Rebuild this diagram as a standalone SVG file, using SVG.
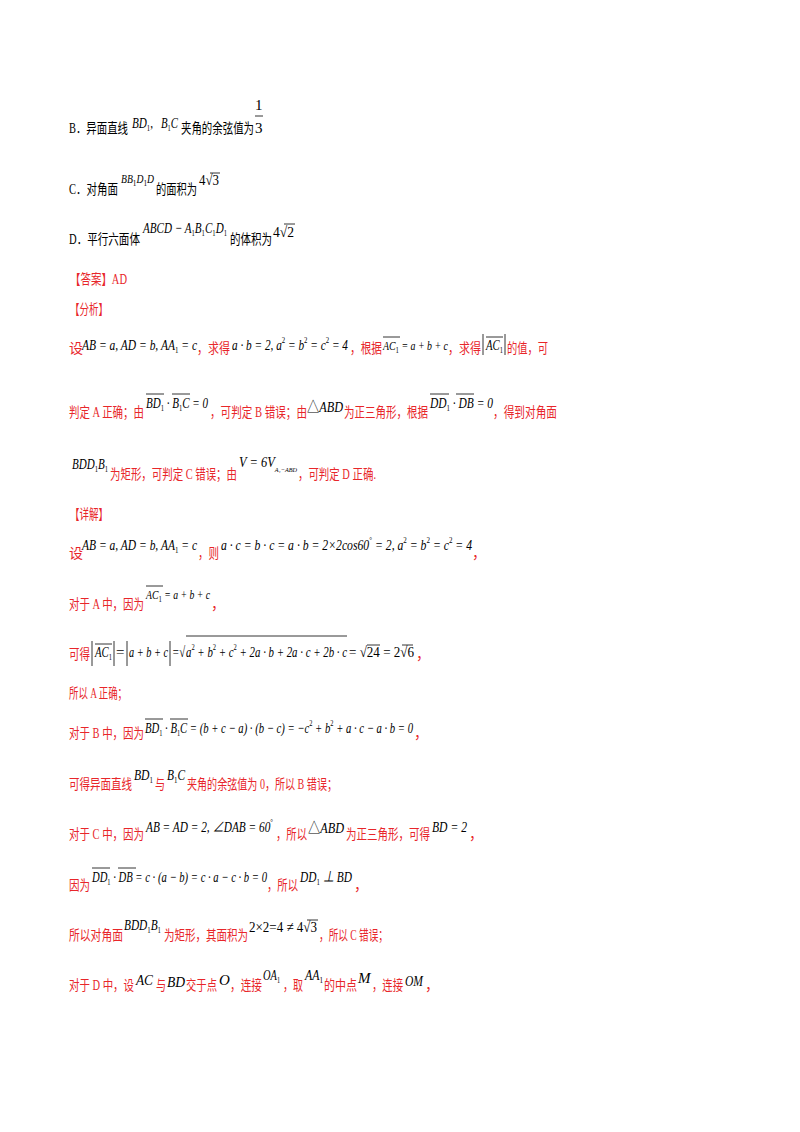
<svg xmlns="http://www.w3.org/2000/svg" width="800" height="1132" viewBox="0 0 800 1132">
<style>
text{font-family:"Liberation Serif","Noto Sans CJK SC",serif;font-size:14px;}
.k{fill:#000}.r{fill:#e8262a}
.m{font-style:italic;font-size:15px;fill:#000}
.n{font-size:15px;fill:#000}
.s{font-size:9px;font-style:normal}
.v{stroke:#000;stroke-width:0.8;fill:none}
</style>
<rect width="800" height="1132" fill="#fff"/>
<g id="optB" class="k">
<text x="69" y="133" textLength="59" lengthAdjust="spacingAndGlyphs">B．异面直线</text>
<text x="132" y="128" class="m" textLength="21" lengthAdjust="spacingAndGlyphs">BD<tspan class="s" dy="3">1</tspan><tspan dy="-3" style="font-style:normal">,</tspan></text>
<text x="161" y="128" class="m" textLength="17" lengthAdjust="spacingAndGlyphs">B<tspan class="s" dy="3">1</tspan><tspan dy="-3">C</tspan></text>
<text x="181" y="133" textLength="73" lengthAdjust="spacingAndGlyphs">夹角的余弦值为</text>
<text x="255" y="110" class="n">1</text>
<line x1="255" y1="116" x2="263" y2="116" stroke="#000" stroke-width="0.8"/>
<text x="255" y="133" class="n">3</text>
</g>
<g id="optC" class="k">
<text x="69" y="194" textLength="49" lengthAdjust="spacingAndGlyphs">C．对角面</text>
<text x="121" y="183" class="m" style="font-size:12px" textLength="33" lengthAdjust="spacingAndGlyphs">BB<tspan class="s" dy="3">1</tspan><tspan dy="-3">D</tspan><tspan class="s" dy="3">1</tspan><tspan dy="-3">D</tspan></text>
<text x="156" y="194" textLength="41" lengthAdjust="spacingAndGlyphs">的面积为</text>
<text x="199" y="185" class="n" textLength="20" lengthAdjust="spacingAndGlyphs">4√3</text>
<line x1="210" y1="173" x2="220" y2="173" stroke="#000" stroke-width="0.8"/>
</g>
<g id="optD" class="k">
<text x="69" y="244" textLength="71" lengthAdjust="spacingAndGlyphs">D．平行六面体</text>
<text x="143" y="233" class="m" textLength="84" lengthAdjust="spacingAndGlyphs">ABCD − A<tspan class="s" dy="3">1</tspan><tspan dy="-3">B</tspan><tspan class="s" dy="3">1</tspan><tspan dy="-3">C</tspan><tspan class="s" dy="3">1</tspan><tspan dy="-3">D</tspan><tspan class="s" dy="3">1</tspan></text>
<text x="230" y="244" textLength="42" lengthAdjust="spacingAndGlyphs">的体积为</text>
<text x="273" y="237" class="n" textLength="21" lengthAdjust="spacingAndGlyphs">4√2</text>
<line x1="284" y1="224" x2="295" y2="224" stroke="#000" stroke-width="0.8"/>
</g>
<g id="answer" class="r">
<text x="70" y="284" textLength="57" lengthAdjust="spacingAndGlyphs">【答案】AD</text>
<text x="70" y="314" textLength="38" lengthAdjust="spacingAndGlyphs">【分析】</text>
<text x="69" y="353">设</text>
<text x="82" y="350" class="m" textLength="115" lengthAdjust="spacingAndGlyphs">AB = a, AD = b, AA<tspan class="s" dy="3">1</tspan><tspan dy="-3"> = c</tspan></text>
<text x="197" y="353" textLength="33" lengthAdjust="spacingAndGlyphs">，求得</text>
<text x="232" y="350" class="m" textLength="116" lengthAdjust="spacingAndGlyphs">a · b = 2, a<tspan class="s" dy="-7">2</tspan><tspan dy="7"> = b</tspan><tspan class="s" dy="-7">2</tspan><tspan dy="7"> = c</tspan><tspan class="s" dy="-7">2</tspan><tspan dy="7"> = 4</tspan></text>
<text x="350" y="353" textLength="32" lengthAdjust="spacingAndGlyphs">，根据</text>
<text x="383" y="350" class="m" style="font-size:13px" textLength="65" lengthAdjust="spacingAndGlyphs">AC<tspan class="s" dy="3">1</tspan><tspan dy="-3"> = a + b + c</tspan></text>
<line x1="383" y1="337" x2="400" y2="337" class="v"/>
<text x="448" y="353" textLength="33" lengthAdjust="spacingAndGlyphs">，求得</text>
<line x1="483" y1="334" x2="483" y2="355" class="v"/>
<text x="486" y="350" class="m" textLength="17" lengthAdjust="spacingAndGlyphs">AC<tspan class="s" dy="3">1</tspan></text>
<line x1="486" y1="337" x2="503" y2="337" class="v"/>
<line x1="505" y1="334" x2="505" y2="355" class="v"/>
<text x="507" y="353" textLength="41" lengthAdjust="spacingAndGlyphs">的值，可</text>
<text x="69" y="417" textLength="75" lengthAdjust="spacingAndGlyphs">判定 A 正确；由</text>
<text x="146" y="408" class="m" textLength="62" lengthAdjust="spacingAndGlyphs">BD<tspan class="s" dy="3">1</tspan><tspan dy="-3"> · B</tspan><tspan class="s" dy="3">1</tspan><tspan dy="-3">C = 0</tspan></text>
<line x1="146" y1="394" x2="164" y2="394" class="v"/>
<line x1="172" y1="394" x2="190" y2="394" class="v"/>
<text x="210" y="417" textLength="97" lengthAdjust="spacingAndGlyphs">，可判定 B 错误；由</text>
<text x="307" y="412" class="n" textLength="36" lengthAdjust="spacingAndGlyphs">△<tspan class="m">ABD</tspan></text>
<text x="344" y="417" textLength="84" lengthAdjust="spacingAndGlyphs">为正三角形，根据</text>
<text x="430" y="408" class="m" textLength="63" lengthAdjust="spacingAndGlyphs">DD<tspan class="s" dy="3">1</tspan><tspan dy="-3"> · DB = 0</tspan></text>
<line x1="430" y1="394" x2="449" y2="394" class="v"/>
<line x1="456" y1="394" x2="474" y2="394" class="v"/>
<text x="493" y="417" textLength="64" lengthAdjust="spacingAndGlyphs">，得到对角面</text>
<text x="72" y="469" class="m" textLength="36" lengthAdjust="spacingAndGlyphs">BDD<tspan class="s" dy="3">1</tspan><tspan dy="-3">B</tspan><tspan class="s" dy="3">1</tspan></text>
<text x="110" y="479" textLength="127" lengthAdjust="spacingAndGlyphs">为矩形，可判定 C 错误；由</text>
<text x="239" y="467" class="m" style="font-size:14px" textLength="58" lengthAdjust="spacingAndGlyphs">V = 6V<tspan dy="5" style="font-size:7px">A₁−ABD</tspan></text>
<text x="298" y="479" textLength="78" lengthAdjust="spacingAndGlyphs">，可判定 D 正确.</text>
</g>
<g id="detail" class="r">
<text x="70" y="519" textLength="38" lengthAdjust="spacingAndGlyphs">【详解】</text>
<text x="69" y="558">设</text>
<text x="82" y="550" class="m" textLength="115" lengthAdjust="spacingAndGlyphs">AB = a, AD = b, AA<tspan class="s" dy="3">1</tspan><tspan dy="-3"> = c</tspan></text>
<text x="198" y="558" textLength="21" lengthAdjust="spacingAndGlyphs">，则</text>
<text x="221" y="550" class="m" textLength="251" lengthAdjust="spacingAndGlyphs">a · c = b · c = a · b = 2×2cos60<tspan class="s" dy="-7">°</tspan><tspan dy="7"> = 2, a</tspan><tspan class="s" dy="-7">2</tspan><tspan dy="7"> = b</tspan><tspan class="s" dy="-7">2</tspan><tspan dy="7"> = c</tspan><tspan class="s" dy="-7">2</tspan><tspan dy="7"> = 4</tspan></text>
<text x="472" y="558">，</text>
<text x="69" y="609" textLength="75" lengthAdjust="spacingAndGlyphs">对于 A 中，因为</text>
<text x="146" y="599" class="m" style="font-size:13px" textLength="64" lengthAdjust="spacingAndGlyphs">AC<tspan class="s" dy="3">1</tspan><tspan dy="-3"> = a + b + c</tspan></text>
<line x1="146" y1="586" x2="163" y2="586" class="v"/>
<text x="211" y="609">，</text>
<text x="69" y="659" textLength="21" lengthAdjust="spacingAndGlyphs">可得</text>
<line x1="92" y1="641" x2="92" y2="666" class="v"/>
<text x="95" y="657" class="m" textLength="17" lengthAdjust="spacingAndGlyphs">AC<tspan class="s" dy="3">1</tspan></text>
<line x1="95" y1="644" x2="112" y2="644" class="v"/>
<line x1="114" y1="641" x2="114" y2="666" class="v"/>
<text x="116" y="657" class="n">=</text>
<line x1="127" y1="641" x2="127" y2="666" class="v"/>
<text x="129" y="657" class="m" textLength="39" lengthAdjust="spacingAndGlyphs">a + b + c</text>
<line x1="170" y1="641" x2="170" y2="666" class="v"/>
<text x="172" y="657" class="m" textLength="175" lengthAdjust="spacingAndGlyphs">=√<tspan dx="1">a</tspan><tspan class="s" dy="-7">2</tspan><tspan dy="7"> + b</tspan><tspan class="s" dy="-7">2</tspan><tspan dy="7"> + c</tspan><tspan class="s" dy="-7">2</tspan><tspan dy="7"> + 2a · b + 2a · c + 2b · c</tspan></text>
<line x1="186" y1="636" x2="347" y2="636" class="v"/>
<text x="349" y="657" class="n" textLength="65" lengthAdjust="spacingAndGlyphs">= √24 = 2√6</text>
<line x1="367" y1="645" x2="380" y2="645" class="v"/>
<line x1="402" y1="645" x2="413" y2="645" class="v"/>
<text x="416" y="659">，</text>
<text x="69" y="698" textLength="58" lengthAdjust="spacingAndGlyphs">所以 A 正确；</text>
<text x="69" y="738" textLength="75" lengthAdjust="spacingAndGlyphs">对于 B 中，因为</text>
<text x="145" y="733" class="m" textLength="268" lengthAdjust="spacingAndGlyphs">BD<tspan class="s" dy="3">1</tspan><tspan dy="-3"> · B</tspan><tspan class="s" dy="3">1</tspan><tspan dy="-3">C = (b + c − a) · (b − c) = −c</tspan><tspan class="s" dy="-7">2</tspan><tspan dy="7"> + b</tspan><tspan class="s" dy="-7">2</tspan><tspan dy="7"> + a · c − a · b = 0</tspan></text>
<line x1="145" y1="719" x2="163" y2="719" class="v"/>
<line x1="170" y1="719" x2="188" y2="719" class="v"/>
<text x="414" y="738">，</text>
<text x="69" y="789" textLength="63" lengthAdjust="spacingAndGlyphs">可得异面直线</text>
<text x="134" y="780" class="m" textLength="19" lengthAdjust="spacingAndGlyphs">BD<tspan class="s" dy="3">1</tspan></text>
<text x="155" y="789" textLength="10" lengthAdjust="spacingAndGlyphs">与</text>
<text x="167" y="780" class="m" textLength="18" lengthAdjust="spacingAndGlyphs">B<tspan class="s" dy="3">1</tspan><tspan dy="-3">C</tspan></text>
<text x="187" y="789" textLength="150" lengthAdjust="spacingAndGlyphs">夹角的余弦值为 0，所以 B 错误；</text>
<text x="69" y="839" textLength="75" lengthAdjust="spacingAndGlyphs">对于 C 中，因为</text>
<text x="146" y="832" class="m" textLength="127" lengthAdjust="spacingAndGlyphs">AB = AD = 2, ∠DAB = 60<tspan class="s" dy="-7">°</tspan></text>
<text x="276" y="839" textLength="31" lengthAdjust="spacingAndGlyphs">，所以</text>
<text x="308" y="833" class="n" textLength="36" lengthAdjust="spacingAndGlyphs">△<tspan class="m">ABD</tspan></text>
<text x="346" y="839" textLength="84" lengthAdjust="spacingAndGlyphs">为正三角形，可得</text>
<text x="432" y="832" class="m" textLength="35" lengthAdjust="spacingAndGlyphs">BD = 2</text>
<text x="469" y="839">，</text>
<text x="69" y="890" textLength="21" lengthAdjust="spacingAndGlyphs">因为</text>
<text x="92" y="882" class="m" textLength="175" lengthAdjust="spacingAndGlyphs">DD<tspan class="s" dy="3">1</tspan><tspan dy="-3"> · DB = c · (a − b) = c · a − c · b = 0</tspan></text>
<line x1="92" y1="868" x2="110" y2="868" class="v"/>
<line x1="118" y1="868" x2="136" y2="868" class="v"/>
<text x="267" y="890" textLength="31" lengthAdjust="spacingAndGlyphs">，所以</text>
<text x="300" y="882" class="m" textLength="52" lengthAdjust="spacingAndGlyphs">DD<tspan class="s" dy="3">1</tspan><tspan dy="-3"> ⊥ BD</tspan></text>
<text x="354" y="890">，</text>
<text x="69" y="940" textLength="54" lengthAdjust="spacingAndGlyphs">所以对角面</text>
<text x="124" y="930" class="m" textLength="37" lengthAdjust="spacingAndGlyphs">BDD<tspan class="s" dy="3">1</tspan><tspan dy="-3">B</tspan><tspan class="s" dy="3">1</tspan></text>
<text x="164" y="940" textLength="84" lengthAdjust="spacingAndGlyphs">为矩形，其面积为</text>
<text x="249" y="932" class="n" textLength="68" lengthAdjust="spacingAndGlyphs">2×2=4 ≠ 4√3</text>
<line x1="307" y1="920" x2="318" y2="920" stroke="#000" stroke-width="0.8"/>
<text x="319" y="940" textLength="69" lengthAdjust="spacingAndGlyphs">，所以 C 错误；</text>
<text x="69" y="990" textLength="65" lengthAdjust="spacingAndGlyphs">对于 D 中，设</text>
<text x="136" y="985" class="m" textLength="17" lengthAdjust="spacingAndGlyphs">AC</text>
<text x="156" y="990" textLength="10" lengthAdjust="spacingAndGlyphs">与</text>
<text x="167" y="987" class="m" textLength="18" lengthAdjust="spacingAndGlyphs">BD</text>
<text x="186" y="990" textLength="31" lengthAdjust="spacingAndGlyphs">交于点</text>
<text x="219" y="985" class="m">O</text>
<text x="230" y="990" textLength="32" lengthAdjust="spacingAndGlyphs">，连接</text>
<text x="263" y="980" class="m" textLength="17" lengthAdjust="spacingAndGlyphs">OA<tspan class="s" dy="3">1</tspan></text>
<text x="283" y="990" textLength="20" lengthAdjust="spacingAndGlyphs">，取</text>
<text x="305" y="980" class="m" textLength="18" lengthAdjust="spacingAndGlyphs">AA<tspan class="s" dy="3">1</tspan></text>
<text x="324" y="990" textLength="33" lengthAdjust="spacingAndGlyphs">的中点</text>
<text x="358" y="983" class="m">M</text>
<text x="372" y="990" textLength="31" lengthAdjust="spacingAndGlyphs">，连接</text>
<text x="405" y="986" class="m" textLength="18" lengthAdjust="spacingAndGlyphs">OM</text>
<text x="425" y="990">，</text>
</g>
</svg>
